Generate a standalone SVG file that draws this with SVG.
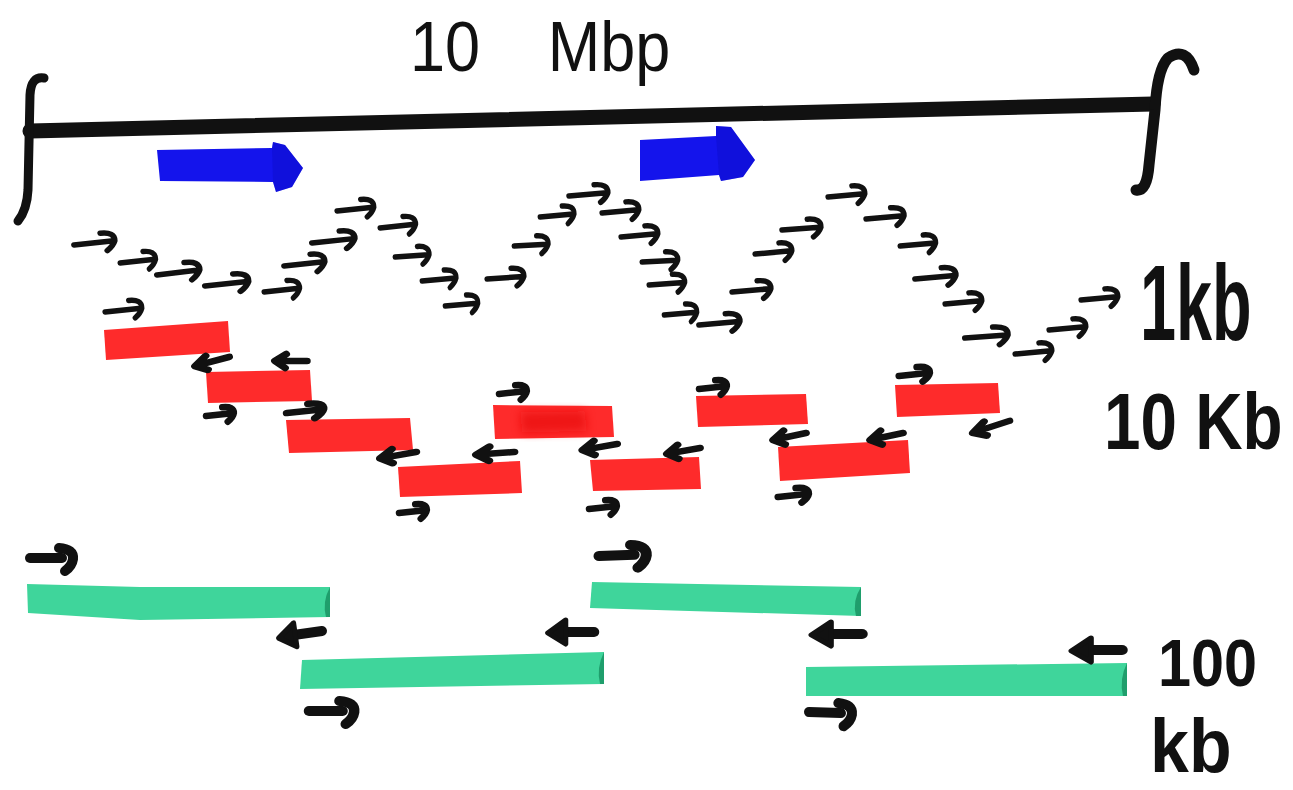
<svg xmlns="http://www.w3.org/2000/svg" width="1293" height="790" viewBox="0 0 1293 790">
  <style>
    .ink { fill: none; stroke: #111; stroke-linecap: round; stroke-linejoin: round; }
    .p1 { stroke-width: 5.5; }
    .p2 { stroke-width: 6.5; }
    .p3 { stroke-width: 10; }
    .red { fill: #fe2b2b; }
    .green { fill: #3fd59b; }
    .gcap { fill: #1f9e6c; }
    .blue { fill: #1414ec; }
    .hand { font-family: "Liberation Sans", Arial, sans-serif; fill: #111; }
  </style>
  <defs>
    <filter id="soft" x="-20%" y="-40%" width="140%" height="180%">
      <feGaussianBlur stdDeviation="5"/>
    </filter>
    <!-- short primer arrow, 1 kb reads -->
    <path id="a1" class="ink p1" d="M0,0 L38,0 M26,-9 Q40,-9 39,0 Q37,5 31,9"/>
    <!-- primer arrows beside 10 kb pieces -->
    <path id="aR" class="ink p2" d="M0,0 L26,0 M17,-7 Q29,-7 28,0 Q27,4 21,8"/>
    <path id="aL" class="ink p2" d="M0,0 L-27,0 M-18,-7 L-28,0 L-19,7"/>
    <!-- bold arrows beside 100 kb pieces -->
    <g id="gR">
      <path class="ink p3" d="M0,0 L32,0"/>
      <path class="ink" stroke-width="10" d="M29,-10 Q44,-9 43,1 Q42,8 35,13"/>
    </g>
    <g id="gL">
      <path class="ink p3" d="M0,0 L-32,0"/>
      <path fill="#111" stroke="#111" stroke-width="5" stroke-linejoin="round" d="M-27,-12 L-44,1 L-27,12 Z"/>
    </g>
  </defs>

  <rect width="1293" height="790" fill="#fff"/>

  <!-- chromosome scale bar -->
  <g id="scale-bar">
    <path class="ink" stroke-width="15" stroke-linecap="butt" d="M30,131 L1153,104"/>
    <path class="ink" stroke-width="9" d="M44,78 Q31,76 30,95 L28,190 Q27,210 18,221"/>
    <path class="ink" stroke-width="11" d="M1194,70 Q1186,46 1168,58 Q1157,70 1155,110 L1149,165 Q1147,192 1136,190"/>
  </g>

  <!-- genes -->
  <g id="gene-1">
    <path class="blue" d="M157,150 L272,148 L273,142 L285,145 L303,168 L292,187 L276,192 L273,182 L160,181 Z"/>
    <path fill="#0a0ac0" opacity="0.35" d="M272,148 L273,142 L285,145 L303,168 L292,187 L276,192 L273,182 Z"/>
  </g>
  <g id="gene-2">
    <path class="blue" d="M640,140 L716,136 L716,126 L731,127 L755,160 L743,177 L721,181 L719,175 L640,181 Z"/>
    <path fill="#0a0ac0" opacity="0.35" d="M716,136 L716,126 L731,127 L755,160 L743,177 L721,181 L719,175 Z"/>
  </g>

  <!-- 1 kb reads -->
  <g id="reads-1kb">
    <use href="#a1" transform="translate(74,245) rotate(-6) scale(1.05,1)"/>
    <use href="#a1" transform="translate(120,263) rotate(-6) scale(0.92,1)"/>
    <use href="#a1" transform="translate(157,275) rotate(-7) scale(1.1,1)"/>
    <use href="#a1" transform="translate(205,286) rotate(-6) scale(1.12,1)"/>
    <use href="#a1" transform="translate(264,292) rotate(-6) scale(0.92,1)"/>
    <use href="#a1" transform="translate(284,266) rotate(-6) scale(1.05,1)"/>
    <use href="#a1" transform="translate(312,243) rotate(-6) scale(1.1,1)"/>
    <use href="#a1" transform="translate(337,211) rotate(-6) scale(0.95,1)"/>
    <use href="#a1" transform="translate(380,228) rotate(-6) scale(0.92,1)"/>
    <use href="#a1" transform="translate(395,257) rotate(-4) scale(0.88,1)"/>
    <use href="#a1" transform="translate(422,281) rotate(-5) scale(0.88,1)"/>
    <use href="#a1" transform="translate(445,306) rotate(-5) scale(0.85,1)"/>
    <use href="#a1" transform="translate(487,279) rotate(-4) scale(0.95,1)"/>
    <use href="#a1" transform="translate(514,246) rotate(-3) scale(0.88,1)"/>
    <use href="#a1" transform="translate(540,217) rotate(-5) scale(0.88,1)"/>
    <use href="#a1" transform="translate(569,196) rotate(-5) scale(1.0,1)"/>
    <use href="#a1" transform="translate(602,213) rotate(-5) scale(0.95,1)"/>
    <use href="#a1" transform="translate(621,237) rotate(-5) scale(0.95,1)"/>
    <use href="#a1" transform="translate(642,262) rotate(-3) scale(0.92,1)"/>
    <use href="#a1" transform="translate(649,285) rotate(-4) scale(0.92,1)"/>
    <use href="#a1" transform="translate(664,315) rotate(-5) scale(0.85,1)"/>
    <use href="#a1" transform="translate(699,325) rotate(-5) scale(1.05,1)"/>
    <use href="#a1" transform="translate(732,292) rotate(-5) scale(1.0,1)"/>
    <use href="#a1" transform="translate(755,254) rotate(-5) scale(0.95,1)"/>
    <use href="#a1" transform="translate(782,230) rotate(-4) scale(1.0,1)"/>
    <use href="#a1" transform="translate(828,197) rotate(-5) scale(0.95,1)"/>
    <use href="#a1" transform="translate(866,219) rotate(-5) scale(0.98,1)"/>
    <use href="#a1" transform="translate(900,246) rotate(-5) scale(0.92,1)"/>
    <use href="#a1" transform="translate(915,279) rotate(-5) scale(1.05,1)"/>
    <use href="#a1" transform="translate(945,304) rotate(-5) scale(0.95,1)"/>
    <use href="#a1" transform="translate(965,338) rotate(-4) scale(1.1,1)"/>
    <use href="#a1" transform="translate(1015,354) rotate(-5) scale(0.95,1)"/>
    <use href="#a1" transform="translate(1049,330) rotate(-5) scale(0.95,1)"/>
    <use href="#a1" transform="translate(1081,300) rotate(-5) scale(0.95,1)"/>
    <use href="#a1" transform="translate(105,312) rotate(-6) scale(0.95,1)"/>
  </g>

  <!-- 10 kb pieces -->
  <g id="contigs-10kb">
    <path class="red" d="M104,330 L228,321 L230,352 L106,360 Z"/>
    <path class="red" d="M206,372 L310,370 L312,401 L208,403 Z"/>
    <path class="red" d="M286,420 L410,418 L413,450 L289,453 Z"/>
    <path class="red" d="M398,467 L520,461 L522,493 L400,497 Z"/>
    <path class="red" d="M493,405 L612,406 L614,437 L495,439 Z"/>
    <path fill="#e80808" opacity="0.7" filter="url(#soft)" d="M520,412 L585,411 L587,431 L522,433 Z"/>
    <path class="red" d="M590,460 L699,457 L701,489 L593,491 Z"/>
    <path class="red" d="M696,396 L806,394 L808,424 L698,427 Z"/>
    <path class="red" d="M778,447 L908,440 L910,473 L780,481 Z"/>
    <path class="red" d="M895,385 L998,383 L1000,413 L897,417 Z"/>
  </g>

  <!-- primer arrows beside the 10 kb pieces -->
  <g id="primers-10kb">
    <use href="#aR" transform="translate(206,416) rotate(-6)"/>
    <use href="#aR" transform="translate(287,413) rotate(-6) scale(1.3,1)"/>
    <use href="#aR" transform="translate(499,394) rotate(-6)"/>
    <use href="#aR" transform="translate(399,513) rotate(-6)"/>
    <use href="#aR" transform="translate(589,509) rotate(-6)"/>
    <use href="#aR" transform="translate(699,389) rotate(-6)"/>
    <use href="#aR" transform="translate(899,376) rotate(-6) scale(1.1,1)"/>
    <use href="#aR" transform="translate(778,497) rotate(-6) scale(1.1,1)"/>
    <use href="#aL" transform="translate(229,357) rotate(-15) scale(1.25,1)"/>
    <use href="#aL" transform="translate(307,361) scale(1.15,1)"/>
    <use href="#aL" transform="translate(416,452) rotate(-10) scale(1.3,1)"/>
    <use href="#aL" transform="translate(514,452) rotate(-4) scale(1.35,1)"/>
    <use href="#aL" transform="translate(617,444) rotate(-10) scale(1.25,1)"/>
    <use href="#aL" transform="translate(700,448) rotate(-10) scale(1.2,1)"/>
    <use href="#aL" transform="translate(806,433) rotate(-12) scale(1.2,1)"/>
    <use href="#aL" transform="translate(903,433) rotate(-12) scale(1.2,1)"/>
    <use href="#aL" transform="translate(1009,421) rotate(-18) scale(1.35,1)"/>
  </g>

  <!-- 100 kb pieces -->
  <g id="contig-100kb-1">
    <path class="green" d="M27,584 L140,587 L330,587 L330,617 L140,620 L28,613 Z"/>
    <path class="gcap" d="M330,587 Q322,602 326,617 L330,617 Z"/>
  </g>
  <g id="contig-100kb-2">
    <path class="green" d="M302,660 L604,652 L604,684 L300,689 Z"/>
    <path class="gcap" d="M604,652 Q596,668 600,684 L604,684 Z"/>
  </g>
  <g id="contig-100kb-3">
    <path class="green" d="M592,582 L861,587 L861,616 L590,608 Z"/>
    <path class="gcap" d="M861,587 Q852,601 856,616 L861,616 Z"/>
  </g>
  <g id="contig-100kb-4">
    <path class="green" d="M806,667 L1127,663 L1127,696 L806,696 Z"/>
    <path class="gcap" d="M1127,663 Q1119,679 1123,696 L1127,696 Z"/>
  </g>

  <!-- primer arrows beside the 100 kb pieces -->
  <g id="primers-100kb">
    <use href="#gR" transform="translate(30,558)"/>
    <use href="#gR" transform="translate(309,711) scale(1.05,1)"/>
    <use href="#gR" transform="translate(599,556) rotate(-2) scale(1.1,1)"/>
    <use href="#gR" transform="translate(809,712) rotate(2)"/>
    <use href="#gL" transform="translate(322,631) rotate(-8)"/>
    <use href="#gL" transform="translate(594,632) scale(1.05,1)"/>
    <use href="#gL" transform="translate(862,634) scale(1.15,1)"/>
    <use href="#gL" transform="translate(1122,650) scale(1.15,1)"/>
  </g>

  <!-- labels -->
  <g id="labels">
    <text class="hand" font-size="70" y="71" xml:space="preserve" transform="translate(410,0) scale(0.9,1) translate(-410,0)"><tspan x="410">10 </tspan><tspan x="563">Mbp</tspan></text>
    <text class="hand" font-size="108" font-weight="bold" transform="translate(1140,340) scale(0.6,1)">1kb</text>
    <text class="hand" font-size="80" font-weight="bold" transform="translate(1104,449) scale(0.82,1)">10 Kb</text>
    <text class="hand" font-size="66" font-weight="bold" transform="translate(1158,686) scale(0.9,1)">100</text>
    <text class="hand" font-size="76" font-weight="bold" transform="translate(1150,772) scale(0.92,1)">kb</text>
  </g>
</svg>
